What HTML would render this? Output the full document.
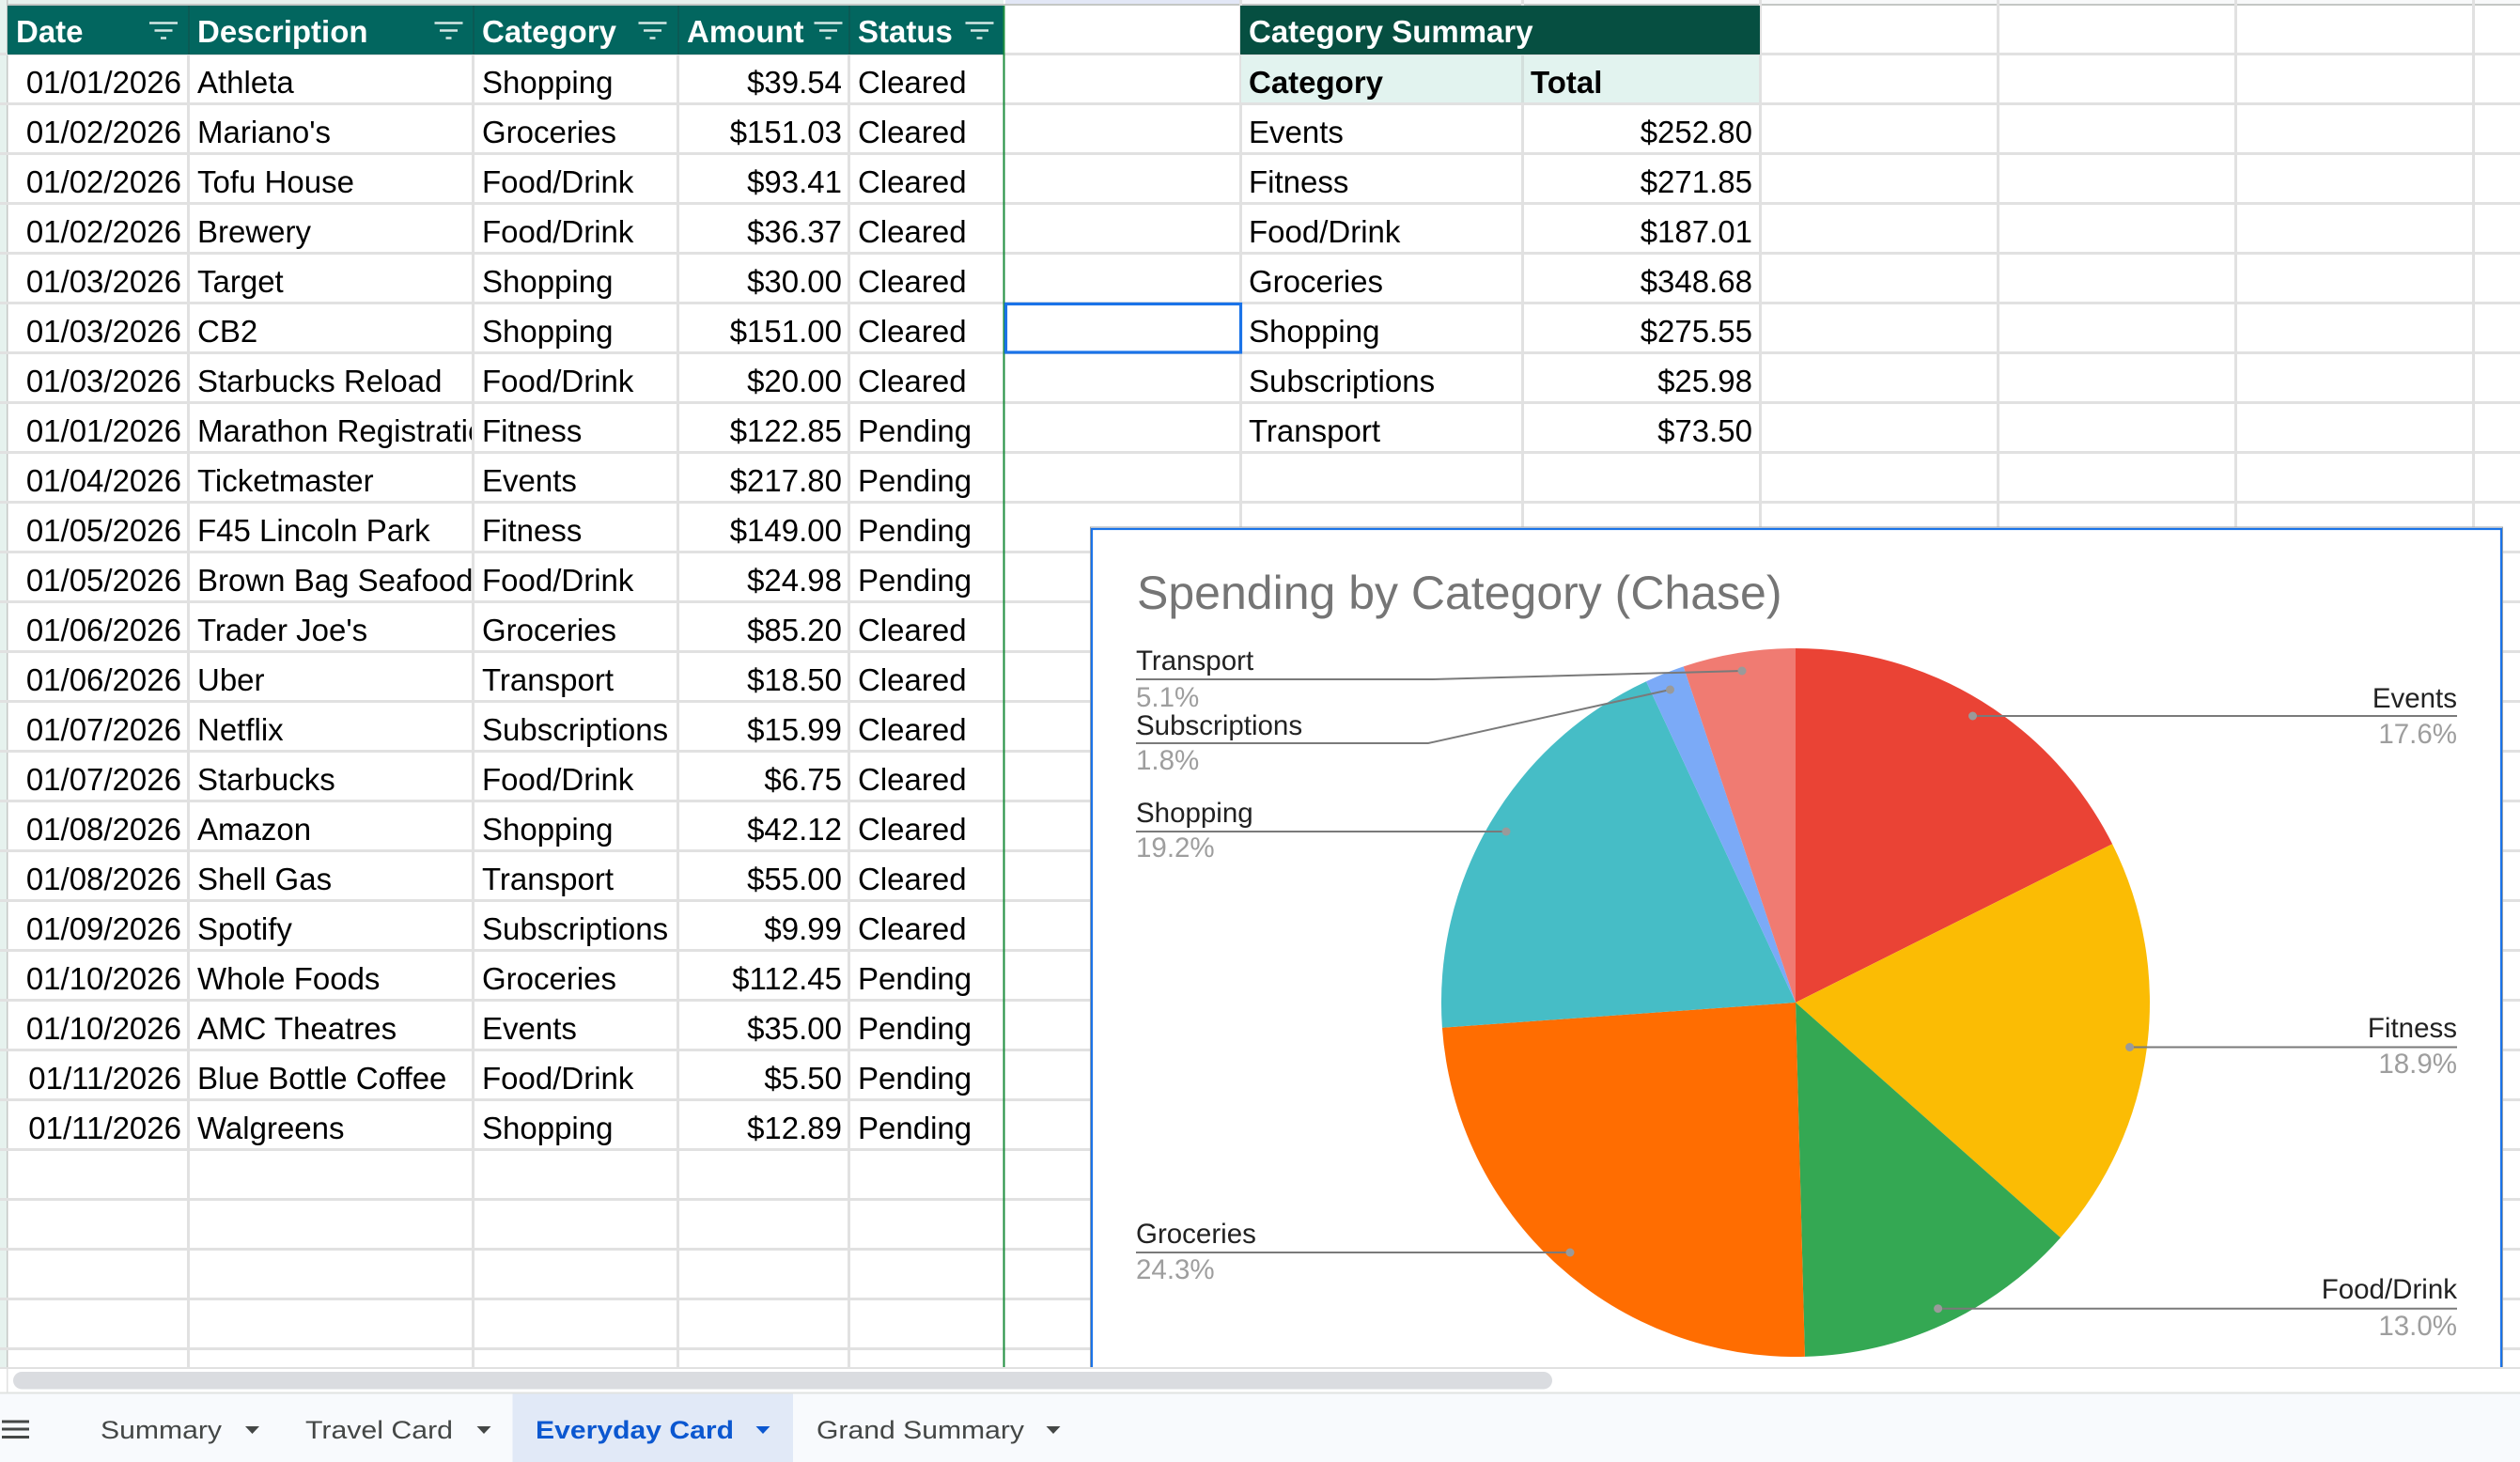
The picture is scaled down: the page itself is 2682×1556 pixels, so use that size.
<!DOCTYPE html>
<html><head><meta charset="utf-8"><style>
html,body{margin:0;padding:0;background:#fff;}
svg{display:block;}
text{font-family:"Liberation Sans",Arial,sans-serif;}
</style></head><body>
<svg width="2682" height="1556" viewBox="0 0 2682 1556" xmlns="http://www.w3.org/2000/svg">
<defs>
<clipPath id="cB"><rect x="201" y="0" width="301" height="1556"/></clipPath>
</defs>
<rect x="0" y="0" width="2682" height="1556" fill="#ffffff"/>
<!-- top strip -->
<rect x="0" y="0" width="1068" height="5" fill="#e6f2ee"/>
<rect x="1070" y="0" width="250" height="5" fill="#e2e7f6"/>
<rect x="1320" y="0" width="1362" height="5" fill="#f8f9fa"/>
<rect x="0" y="4" width="2682" height="2" fill="#c4c7c5"/>
<!-- left strip -->
<rect x="0" y="0" width="7" height="1456" fill="#e6f2ee"/>
<rect x="7" y="0" width="1.5" height="1456" fill="#c4c7c5"/>
<!-- horizontal gridlines -->
<g fill="#e1e1e1">
<rect x="0" y="56" width="2682" height="3"/><rect x="0" y="109" width="2682" height="3"/><rect x="0" y="162" width="2682" height="3"/><rect x="0" y="215" width="2682" height="3"/><rect x="0" y="268" width="2682" height="3"/><rect x="0" y="321" width="2682" height="3"/><rect x="0" y="374" width="2682" height="3"/><rect x="0" y="427" width="2682" height="3"/><rect x="0" y="480" width="2682" height="3"/><rect x="0" y="533" width="2682" height="3"/><rect x="0" y="586" width="2682" height="3"/><rect x="0" y="639" width="2682" height="3"/><rect x="0" y="692" width="2682" height="3"/><rect x="0" y="745" width="2682" height="3"/><rect x="0" y="798" width="2682" height="3"/><rect x="0" y="851" width="2682" height="3"/><rect x="0" y="904" width="2682" height="3"/><rect x="0" y="957" width="2682" height="3"/><rect x="0" y="1010" width="2682" height="3"/><rect x="0" y="1063" width="2682" height="3"/><rect x="0" y="1116" width="2682" height="3"/><rect x="0" y="1169" width="2682" height="3"/><rect x="0" y="1222" width="2682" height="3"/><rect x="0" y="1275" width="2682" height="3"/><rect x="0" y="1328" width="2682" height="3"/><rect x="0" y="1381" width="2682" height="3"/><rect x="0" y="1434" width="2682" height="3"/>
</g>
<!-- vertical gridlines -->
<g fill="#e1e1e1">
<rect x="199" y="6" width="3" height="1450"/><rect x="502" y="6" width="3" height="1450"/><rect x="720" y="6" width="3" height="1450"/><rect x="902" y="6" width="3" height="1450"/>
<rect x="1319" y="0" width="3" height="1456"/><rect x="1619" y="0" width="3" height="1456"/><rect x="1872" y="0" width="3" height="1456"/><rect x="2125" y="0" width="3" height="1456"/><rect x="2378" y="0" width="3" height="1456"/><rect x="2631" y="0" width="3" height="1456"/>
</g>
<!-- main header -->
<rect x="8" y="6" width="1060" height="52" fill="#02665f"/>
<g fill="#0b5a54"><rect x="200" y="6" width="2" height="52"/><rect x="503" y="6" width="2" height="52"/><rect x="721" y="6" width="2" height="52"/><rect x="903" y="6" width="2" height="52"/></g>
<g fill="#ffffff" font-weight="bold" font-size="33">
<text x="17" y="45">Date</text>
<text x="210" y="45">Description</text>
<text x="513" y="45">Category</text>
<text x="731" y="45">Amount</text>
<text x="913" y="45">Status</text>
</g>
<g stroke="#d5e8e5" stroke-width="2.5">
<line x1="159" y1="24.5" x2="189" y2="24.5"/><line x1="164.5" y1="32.5" x2="183.5" y2="32.5"/><line x1="171" y1="40.5" x2="177" y2="40.5"/>
<line x1="462.5" y1="24.5" x2="492.5" y2="24.5"/><line x1="468" y1="32.5" x2="487" y2="32.5"/><line x1="474.5" y1="40.5" x2="480.5" y2="40.5"/>
<line x1="679.5" y1="24.5" x2="709.5" y2="24.5"/><line x1="685" y1="32.5" x2="704" y2="32.5"/><line x1="691.5" y1="40.5" x2="697.5" y2="40.5"/>
<line x1="866.5" y1="24.5" x2="896.5" y2="24.5"/><line x1="872" y1="32.5" x2="891" y2="32.5"/><line x1="878.5" y1="40.5" x2="884.5" y2="40.5"/>
<line x1="1027.5" y1="24.5" x2="1057.5" y2="24.5"/><line x1="1033" y1="32.5" x2="1052" y2="32.5"/><line x1="1039.5" y1="40.5" x2="1045.5" y2="40.5"/>
</g>
<!-- green border -->
<rect x="1067.5" y="6" width="2" height="1450" fill="#1e8e3e"/>
<!-- table data -->
<g font-size="33" fill="#000">
<g text-anchor="end">
<text x="193" y="99">01/01/2026</text><text x="193" y="152">01/02/2026</text><text x="193" y="205">01/02/2026</text><text x="193" y="258">01/02/2026</text><text x="193" y="311">01/03/2026</text><text x="193" y="364">01/03/2026</text><text x="193" y="417">01/03/2026</text><text x="193" y="470">01/01/2026</text><text x="193" y="523">01/04/2026</text><text x="193" y="576">01/05/2026</text><text x="193" y="629">01/05/2026</text><text x="193" y="682">01/06/2026</text><text x="193" y="735">01/06/2026</text><text x="193" y="788">01/07/2026</text><text x="193" y="841">01/07/2026</text><text x="193" y="894">01/08/2026</text><text x="193" y="947">01/08/2026</text><text x="193" y="1000">01/09/2026</text><text x="193" y="1053">01/10/2026</text><text x="193" y="1106">01/10/2026</text><text x="193" y="1159">01/11/2026</text><text x="193" y="1212">01/11/2026</text>
</g>
<g clip-path="url(#cB)">
<text x="210" y="99">Athleta</text><text x="210" y="152">Mariano's</text><text x="210" y="205">Tofu House</text><text x="210" y="258">Brewery</text><text x="210" y="311">Target</text><text x="210" y="364">CB2</text><text x="210" y="417">Starbucks Reload</text><text x="210" y="470">Marathon Registration</text><text x="210" y="523">Ticketmaster</text><text x="210" y="576">F45 Lincoln Park</text><text x="210" y="629">Brown Bag Seafood</text><text x="210" y="682">Trader Joe's</text><text x="210" y="735">Uber</text><text x="210" y="788">Netflix</text><text x="210" y="841">Starbucks</text><text x="210" y="894">Amazon</text><text x="210" y="947">Shell Gas</text><text x="210" y="1000">Spotify</text><text x="210" y="1053">Whole Foods</text><text x="210" y="1106">AMC Theatres</text><text x="210" y="1159">Blue Bottle Coffee</text><text x="210" y="1212">Walgreens</text>
</g>
<g>
<text x="513" y="99">Shopping</text><text x="513" y="152">Groceries</text><text x="513" y="205">Food/Drink</text><text x="513" y="258">Food/Drink</text><text x="513" y="311">Shopping</text><text x="513" y="364">Shopping</text><text x="513" y="417">Food/Drink</text><text x="513" y="470">Fitness</text><text x="513" y="523">Events</text><text x="513" y="576">Fitness</text><text x="513" y="629">Food/Drink</text><text x="513" y="682">Groceries</text><text x="513" y="735">Transport</text><text x="513" y="788">Subscriptions</text><text x="513" y="841">Food/Drink</text><text x="513" y="894">Shopping</text><text x="513" y="947">Transport</text><text x="513" y="1000">Subscriptions</text><text x="513" y="1053">Groceries</text><text x="513" y="1106">Events</text><text x="513" y="1159">Food/Drink</text><text x="513" y="1212">Shopping</text>
</g>
<g text-anchor="end">
<text x="896" y="99">$39.54</text><text x="896" y="152">$151.03</text><text x="896" y="205">$93.41</text><text x="896" y="258">$36.37</text><text x="896" y="311">$30.00</text><text x="896" y="364">$151.00</text><text x="896" y="417">$20.00</text><text x="896" y="470">$122.85</text><text x="896" y="523">$217.80</text><text x="896" y="576">$149.00</text><text x="896" y="629">$24.98</text><text x="896" y="682">$85.20</text><text x="896" y="735">$18.50</text><text x="896" y="788">$15.99</text><text x="896" y="841">$6.75</text><text x="896" y="894">$42.12</text><text x="896" y="947">$55.00</text><text x="896" y="1000">$9.99</text><text x="896" y="1053">$112.45</text><text x="896" y="1106">$35.00</text><text x="896" y="1159">$5.50</text><text x="896" y="1212">$12.89</text>
</g>
<g>
<text x="913" y="99">Cleared</text><text x="913" y="152">Cleared</text><text x="913" y="205">Cleared</text><text x="913" y="258">Cleared</text><text x="913" y="311">Cleared</text><text x="913" y="364">Cleared</text><text x="913" y="417">Cleared</text><text x="913" y="470">Pending</text><text x="913" y="523">Pending</text><text x="913" y="576">Pending</text><text x="913" y="629">Pending</text><text x="913" y="682">Cleared</text><text x="913" y="735">Cleared</text><text x="913" y="788">Cleared</text><text x="913" y="841">Cleared</text><text x="913" y="894">Cleared</text><text x="913" y="947">Cleared</text><text x="913" y="1000">Cleared</text><text x="913" y="1053">Pending</text><text x="913" y="1106">Pending</text><text x="913" y="1159">Pending</text><text x="913" y="1212">Pending</text>
</g>
</g>
<!-- summary table -->
<rect x="1320" y="6" width="553" height="52" fill="#064f41"/>
<rect x="1321" y="59" width="551" height="50" fill="#e2f3ef"/>
<rect x="1619" y="59" width="3" height="50" fill="#d3dfdc"/>
<text x="1329" y="45" font-size="33" font-weight="bold" fill="#ffffff">Category Summary</text>
<g font-size="33" fill="#000">
<text x="1329" y="99" font-weight="bold">Category</text>
<text x="1629" y="99" font-weight="bold">Total</text>
<text x="1329" y="152">Events</text><text x="1329" y="205">Fitness</text><text x="1329" y="258">Food/Drink</text><text x="1329" y="311">Groceries</text><text x="1329" y="364">Shopping</text><text x="1329" y="417">Subscriptions</text><text x="1329" y="470">Transport</text>
<g text-anchor="end">
<text x="1865" y="152">$252.80</text><text x="1865" y="205">$271.85</text><text x="1865" y="258">$187.01</text><text x="1865" y="311">$348.68</text><text x="1865" y="364">$275.55</text><text x="1865" y="417">$25.98</text><text x="1865" y="470">$73.50</text>
</g>
</g>
<!-- selected cell -->
<rect x="1070.5" y="323.5" width="250" height="51.5" fill="none" stroke="#1a73e8" stroke-width="3.2"/>
<!-- chart -->
<rect x="1160.5" y="561" width="1503" height="900" fill="#ffffff" stroke="#a0a4a8" stroke-width="1"/>
<rect x="1162" y="563" width="1500" height="900" fill="#ffffff" stroke="#1a73e8" stroke-width="2.2"/>
<text x="1210" y="648" font-size="50" fill="#757575">Spending by Category (Chase)</text>
<g>
<path d="M1911,1067 L1911,690 A377,377 0 0 1 2248.1,898.2 Z" fill="#ea4335"/>
<path d="M1911,1067 L2248.1,898.2 A377,377 0 0 1 2193.0,1317.2 Z" fill="#fbbc04"/>
<path d="M1911,1067 L2193.0,1317.2 A377,377 0 0 1 1920.9,1443.9 Z" fill="#34a853"/>
<path d="M1911,1067 L1920.9,1443.9 A377,377 0 0 1 1534.9,1093.7 Z" fill="#ff6d01"/>
<path d="M1911,1067 L1534.9,1093.7 A377,377 0 0 1 1752.0,725.2 Z" fill="#46bdc6"/>
<path d="M1911,1067 L1752.0,725.2 A377,377 0 0 1 1791.7,709.4 Z" fill="#7baaf7"/>
<path d="M1911,1067 L1791.7,709.4 A377,377 0 0 1 1911,690 Z" fill="#f07b72"/>
</g>
<!-- leader lines -->
<g stroke="#7a7a7a" stroke-width="2" fill="none">
<polyline points="1209,723 1525,723 1854,714"/>
<polyline points="1209,791 1520,791 1777.5,734"/>
<polyline points="1209,885 1603,885"/>
<polyline points="1209,1333 1671,1333"/>
<polyline points="2099.5,762 2615,762"/>
<polyline points="2266.6,1114.5 2615,1114.5"/>
<polyline points="2062.6,1392.7 2615,1392.7"/>
</g>
<g fill="#9a9a9a">
<circle cx="1854" cy="714" r="4.5"/><circle cx="1777.5" cy="734" r="4.5"/><circle cx="1603" cy="885" r="4.5"/><circle cx="1671" cy="1333" r="4.5"/><circle cx="2099.5" cy="762" r="4.5"/><circle cx="2266.6" cy="1114.5" r="4.5"/><circle cx="2062.6" cy="1392.7" r="4.5"/>
</g>
<g font-size="29.5">
<g fill="#222222">
<text x="1209" y="713">Transport</text>
<text x="1209" y="782">Subscriptions</text>
<text x="1209" y="875">Shopping</text>
<text x="1209" y="1323">Groceries</text>
<text x="2615" y="753" text-anchor="end">Events</text>
<text x="2615" y="1104" text-anchor="end">Fitness</text>
<text x="2615" y="1382" text-anchor="end">Food/Drink</text>
</g>
<g fill="#9e9e9e">
<text x="1209" y="752">5.1%</text>
<text x="1209" y="819">1.8%</text>
<text x="1209" y="912">19.2%</text>
<text x="1209" y="1361">24.3%</text>
<text x="2615" y="791" text-anchor="end">17.6%</text>
<text x="2615" y="1142" text-anchor="end">18.9%</text>
<text x="2615" y="1421" text-anchor="end">13.0%</text>
</g>
</g>
<!-- scrollbar area -->
<rect x="0" y="1456" width="2682" height="27" fill="#ffffff"/>
<rect x="0" y="1455" width="2682" height="2" fill="#e1e1e1"/>
<rect x="7" y="1456" width="1.5" height="26" fill="#e1e1e1"/>
<rect x="14" y="1460" width="1638" height="18.5" rx="9.25" fill="#dadce0"/>
<!-- tab bar -->
<rect x="0" y="1483" width="2682" height="73" fill="#f8fafd"/>
<rect x="0" y="1481.5" width="2682" height="2" fill="#e1e3e1"/>
<rect x="545.5" y="1483.5" width="298.5" height="72.5" fill="#e1e9f7"/>
<g fill="#444746">
<rect x="2" y="1511.5" width="29" height="3"/><rect x="2" y="1519.5" width="29" height="3"/><rect x="2" y="1528" width="29" height="3"/>
</g>
<g font-size="27" fill="#444746">
<text x="107" y="1531" textLength="129" lengthAdjust="spacingAndGlyphs">Summary</text>
<text x="325" y="1531" textLength="157" lengthAdjust="spacingAndGlyphs">Travel Card</text>
<text x="869" y="1531" textLength="221" lengthAdjust="spacingAndGlyphs">Grand Summary</text>
</g>
<text x="570" y="1531" font-size="27" font-weight="bold" fill="#0b57d0" textLength="211" lengthAdjust="spacingAndGlyphs">Everyday Card</text>
<g fill="#444746">
<polygon points="261,1518 276,1518 268.5,1526"/>
<polygon points="507.5,1518 522.5,1518 515,1526"/>
<polygon points="1113.5,1518 1128.5,1518 1121,1526"/>
</g>
<polygon points="804.5,1518 819.5,1518 812,1526" fill="#0b57d0"/>
</svg>
</body></html>
